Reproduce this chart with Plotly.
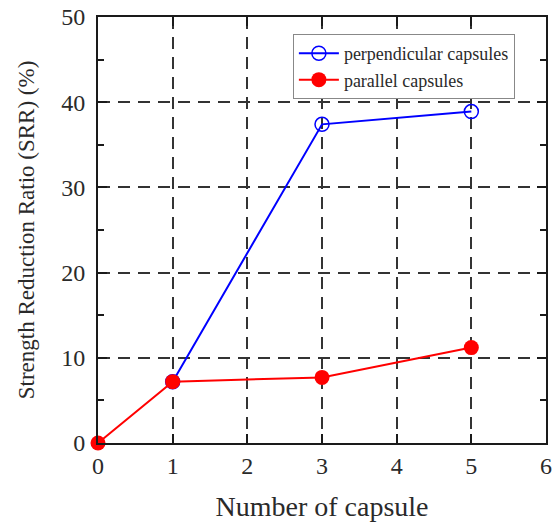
import plotly.graph_objects as go

x_perp = [1, 3, 5]
y_perp = [7.2, 37.4, 38.9]
x_par = [0, 1, 3, 5]
y_par = [0.0, 7.2, 7.7, 11.2]

FONT = "Liberation Serif"
TXT = "#2a2a2a"

fig = go.Figure()
fig.add_trace(go.Scatter(
    x=x_perp, y=y_perp, mode="lines+markers", name="perpendicular capsules",
    line=dict(color="#0000ff", width=2),
    marker=dict(symbol="circle-open", size=14, color="#0000ff", line=dict(width=1.5)),
    cliponaxis=False,
))
fig.add_trace(go.Scatter(
    x=x_par, y=y_par, mode="lines+markers", name="parallel capsules",
    line=dict(color="#ff0000", width=2),
    marker=dict(symbol="circle", size=15, color="#ff0000"),
    cliponaxis=False,
))

axis_common = dict(
    showline=True, linecolor="#1a1a1a", linewidth=2, mirror="allticks",
    ticks="inside", ticklen=9, tickwidth=1.5, tickcolor="#1a1a1a",
    showgrid=True, gridcolor="#333333", gridwidth=1.5, griddash="12px,8px",
    zeroline=False, ticklabeloverflow="allow", automargin=False,
    tickfont=dict(family=FONT, size=24, color=TXT),
)

fig.update_xaxes(
    range=[0, 6], tickvals=[0, 1, 2, 3, 4, 5, 6],
    title=dict(text="Number of capsule", font=dict(family=FONT, size=28, color=TXT), standoff=26),
    **axis_common,
)
fig.update_yaxes(
    range=[0, 50], tickvals=[0, 10, 20, 30, 40, 50],
    ticklabelstandoff=6,
    minor=dict(tickvals=[5, 15, 25, 35, 45], ticks="inside", ticklen=6, tickwidth=1.5, tickcolor="#1a1a1a", showgrid=False),
    title=dict(text="Strength Reduction Ratio (SRR) (%)", font=dict(family=FONT, size=23, color=TXT), standoff=20),
    **axis_common,
)

fig.update_layout(
    width=554, height=522,
    margin=dict(l=98, r=8, t=17, b=79),
    plot_bgcolor="white", paper_bgcolor="white",
    showlegend=True,
    legend=dict(
        x=0.435, y=0.96, xanchor="left", yanchor="top",
        bgcolor="white", bordercolor="#888888", borderwidth=1,
        font=dict(family=FONT, size=18, color=TXT),
        itemwidth=40, tracegroupgap=4,
    ),
)

fig.write_html("out.html", config={"displayModeBar": False},
               post_script="document.body.style.margin='0';")
